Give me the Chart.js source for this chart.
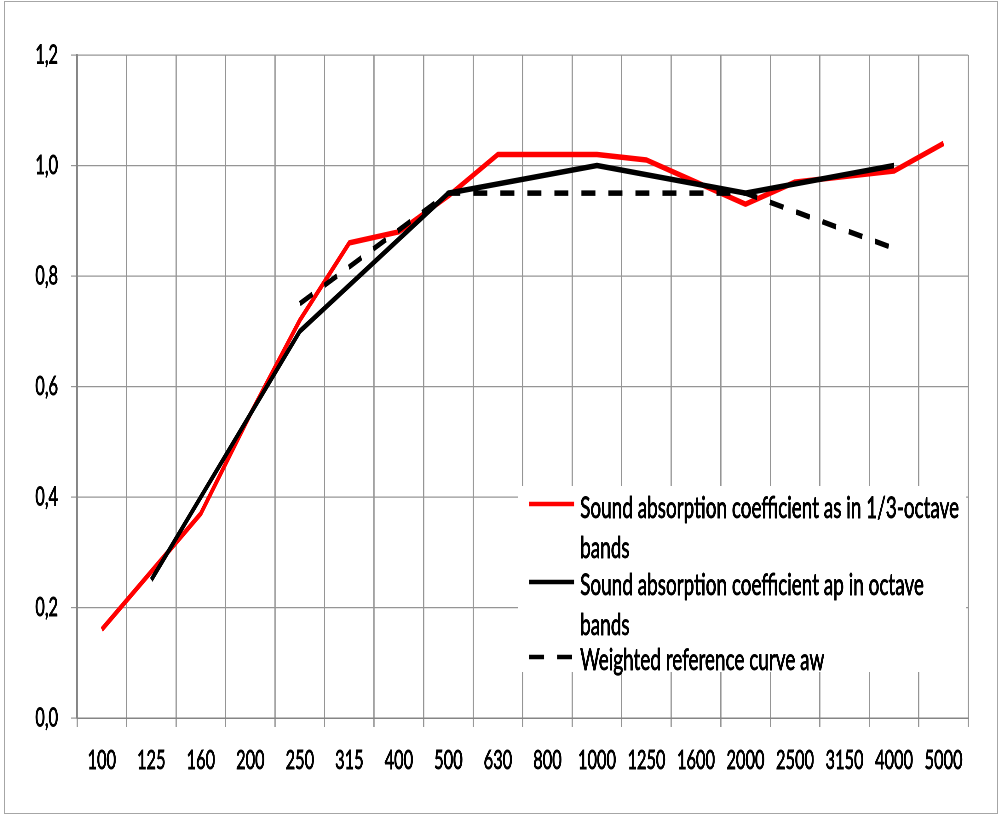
<!DOCTYPE html>
<html><head><meta charset="utf-8">
<script src="https://cdn.jsdelivr.net/npm/chart.js@4.4.0/dist/chart.umd.min.js"></script>
<style>
html,body{margin:0;padding:0;background:#fff;overflow:hidden;width:999px;height:814px;}
#wrap{position:absolute;left:0;top:0;height:814px;transform-origin:0 0;}
#frame{position:absolute;left:4px;top:1px;width:994px;height:813px;border:1px solid #a6a6a6;box-sizing:border-box;pointer-events:none;}
</style></head><body>
<div id="wrap"><canvas id="c"></canvas></div>
<div id="frame"></div>
<script>
// ---- data ----
const categories = ['100','125','160','200','250','315','400','500','630','800','1000','1250','1600','2000','2500','3150','4000','5000'];
const thirdOctave = [0.16,0.265,0.37,0.55,0.72,0.86,0.88,0.945,1.02,1.02,1.02,1.01,0.97,0.93,0.97,0.98,0.99,1.04];
const octave      = [null,0.25,null,null,0.70,null,null,0.95,null,null,1.00,null,null,0.95,null,null,1.00,null];
const reference   = [null,null,null,null,0.75,null,null,0.95,null,null,0.95,null,null,0.95,null,null,0.85,null];
const yTickValues = [0,0.2,0.4,0.6,0.8,1.0,1.2];
const yTickLabels = ['0,0','0,2','0,4','0,6','0,8','1,0','1,2'];
const seriesLabels = [
  'Sound absorption coefficient as in 1/3-octave bands',
  'Sound absorption coefficient ap in octave bands',
  'Weighted reference curve aw'
];
const legendLines = [
  ['Sound absorption coefficient as in 1/3-octave','bands'],
  ['Sound absorption coefficient ap in octave','bands'],
  ['Weighted reference curve aw']
];

// ---- condensed text: measure font, squeeze canvas horizontally ----
const FONT = 'Lato, "Liberation Sans", sans-serif';
const TICK_SIZE = 26;
const mctx = document.createElement('canvas').getContext('2d');
mctx.font = TICK_SIZE + 'px ' + FONT;
const S = 38 / mctx.measureText('1000').width;
const X = v => v / S;
const W = 999 / S;
const legendSize = TICK_SIZE * X(379) / mctx.measureText(legendLines[0][0]).width;
const wrap = document.getElementById('wrap');
wrap.style.width = W + 'px';
wrap.style.transform = 'scaleX(' + S + ')';

const GRID = '#959595';
const AXIS = '#858585';
const STROKE = 0.9;

const legendPlugin = {
  id: 'boxLegend',
  afterDraw(chart) {
    const ctx = chart.ctx;
    ctx.save();
    ctx.fillStyle = '#ffffff';
    ctx.fillRect(X(518), 486, X(966 - 518), 672 - 486);
    const samples = [504, 582, 657];
    const textY = [[507, 547], [584, 624], [659]];
    chart.data.datasets.forEach((ds, i) => {
      ctx.beginPath();
      ctx.strokeStyle = ds.borderColor;
      ctx.lineWidth = 4.5;
      ctx.lineCap = 'butt';
      ctx.setLineDash(ds.borderDash && ds.borderDash.length ? [X(15), X(13)] : []);
      ctx.moveTo(X(529), samples[i]);
      ctx.lineTo(X(574), samples[i]);
      ctx.stroke();
      ctx.setLineDash([]);
      ctx.fillStyle = '#000';
      ctx.strokeStyle = '#000';
      ctx.lineWidth = STROKE;
      ctx.lineJoin = 'round';
      ctx.font = legendSize + 'px ' + FONT;
      ctx.textAlign = 'left';
      ctx.textBaseline = 'alphabetic';
      legendLines[i].forEach((t, j) => {
        const ty = textY[i][j] + 0.36 * legendSize;
        ctx.fillText(t, X(580), ty);
        ctx.strokeText(t, X(580), ty);
      });
    });
    ctx.restore();
  }
};

new Chart(document.getElementById('c'), {
  type: 'line',
  data: {
    labels: categories,
    datasets: [
      {label: seriesLabels[0], data: thirdOctave, borderColor: '#ff0000', borderWidth: 5.5, pointRadius: 0, tension: 0, order: 3, borderJoinStyle: 'round'},
      {label: seriesLabels[1], data: octave, borderColor: '#000000', borderWidth: 5.5, pointRadius: 0, tension: 0, spanGaps: true, order: 2, borderJoinStyle: 'round'},
      {label: seriesLabels[2], data: reference, borderColor: '#000000', borderWidth: 5.5, pointRadius: 0, tension: 0, spanGaps: true, order: 1, borderDash: [X(14), X(13)]}
    ]
  },
  options: {
    responsive: true, maintainAspectRatio: false, animation: false, devicePixelRatio: 2,
    layout: {padding: {left: 0, right: X(31), top: 55, bottom: 0}},
    plugins: {legend: {display: false}, tooltip: {enabled: false}},
    scales: {
      x: {
        offset: true,
        grid: {offset: true, color: GRID, lineWidth: X(1.2), tickLength: 9, tickColor: GRID},
        border: {color: AXIS, width: 1.5},
        ticks: {font: {family: FONT, size: TICK_SIZE}, color: '#000', textStrokeColor: '#000', textStrokeWidth: STROKE, padding: 18, maxRotation: 0, autoSkip: false},
        afterFit: s => { s.height = 96; }
      },
      y: {
        min: 0, max: 1.2,
        afterBuildTicks: s => { s.ticks = yTickValues.map(v => ({value: v})); },
        ticks: {font: {family: FONT, size: TICK_SIZE}, color: '#000', textStrokeColor: '#000', textStrokeWidth: STROKE, padding: X(13), callback: (v, i) => yTickLabels[i]},
        grid: {color: GRID, lineWidth: 1.2, tickLength: X(6), tickColor: GRID},
        border: {color: AXIS, width: X(1.5)},
        afterFit: s => { s.width = X(77); }
      }
    }
  },
  plugins: [legendPlugin]
});
</script>
</body></html>
